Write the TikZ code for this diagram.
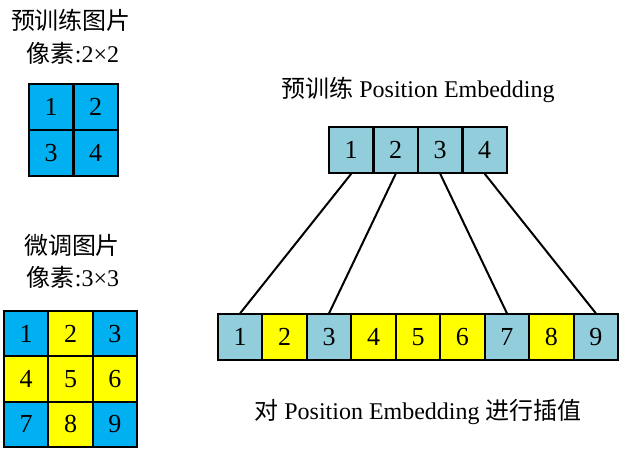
\documentclass[tikz,border=0pt]{standalone}
\usepackage{fontspec}
\setmainfont{Liberation Serif}
\newfontfamily\cjk{Noto Sans CJK SC}
\usepackage{tikz}
\usetikzlibrary{positioning}

\definecolor{gridblue}{HTML}{00B0F0}
\definecolor{embblue}{HTML}{92CDDC}
\definecolor{patchyellow}{HTML}{FFFF00}

\tikzset{
    cell/.style={draw, line width=2pt, inner sep=0pt, minimum width=44.4pt, minimum height=45.6pt, font=\fontsize{26}{28}\selectfont},
    label/.style={inner sep=0pt, font=\fontsize{24}{28}\selectfont}
}

\begin{document}
\begin{tikzpicture}[x=1pt, y=-1pt]
                    \useasboundingbox (0, 0) rectangle (622, 450);

                    % pretraining image, 2x2
                    \node [label] (pretitle) at (71, 20) {\cjk 预训练图片};
                    \node [label] (presize) at (73, 53) {{\cjk 像素}:2×2};
                    \node [cell, fill=gridblue] (a1) at (51.2, 107) {1};
                    \node [cell, fill=gridblue] (a2) at (95.7, 107) {2};
                    \node [cell, fill=gridblue] (a3) at (51.2, 153) {3};
                    \node [cell, fill=gridblue] (a4) at (95.7, 153) {4};

                    % finetuning image, 3x3
                    \node [label] (fttitle) at (72, 245) {\cjk 微调图片};
                    \node [label] (ftsize) at (73, 277) {{\cjk 像素}:3×3};
                    \node [cell, fill=gridblue] (b1) at (26.2, 333.7) {1};
                    \node [cell, fill=patchyellow] (b2) at (70.5, 333.7) {2};
                    \node [cell, fill=gridblue] (b3) at (114.8, 333.7) {3};
                    \node [cell, fill=patchyellow] (b4) at (26.2, 379) {4};
                    \node [cell, fill=patchyellow] (b5) at (70.5, 379) {5};
                    \node [cell, fill=patchyellow] (b6) at (114.8, 379) {6};
                    \node [cell, fill=gridblue] (b7) at (26.2, 424.3) {7};
                    \node [cell, fill=patchyellow] (b8) at (70.5, 424.3) {8};
                    \node [cell, fill=gridblue] (b9) at (114.8, 424.3) {9};

                    % pretrained position embedding
                    \node [label] (embtitle) at (418, 90) {{\cjk 预训练} Position Embedding};
                    \node [cell, fill=embblue] (p1) at (351.2, 150) {1};
                    \node [cell, fill=embblue] (p2) at (395.7, 150) {2};
                    \node [cell, fill=embblue] (p3) at (440.2, 150) {3};
                    \node [cell, fill=embblue] (p4) at (484.7, 150) {4};

                    % interpolated position embedding
                    \node [cell, fill=embblue] (q1) at (240.2, 337) {1};
                    \node [cell, fill=patchyellow] (q2) at (284.6, 337) {2};
                    \node [cell, fill=embblue] (q3) at (329.1, 337) {3};
                    \node [cell, fill=patchyellow] (q4) at (373.5, 337) {4};
                    \node [cell, fill=patchyellow] (q5) at (418, 337) {5};
                    \node [cell, fill=patchyellow] (q6) at (462.4, 337) {6};
                    \node [cell, fill=embblue] (q7) at (506.9, 337) {7};
                    \node [cell, fill=patchyellow] (q8) at (551.3, 337) {8};
                    \node [cell, fill=embblue] (q9) at (595.8, 337) {9};
                    \node [label] (interp) at (418, 412) {{\cjk 对} Position Embedding {\cjk 进行插值}};

                    \draw [line width=2pt] (p1.south) -- (q1.north);
                    \draw [line width=2pt] (p2.south) -- (q3.north);
                    \draw [line width=2pt] (p3.south) -- (q7.north);
                    \draw [line width=2pt] (p4.south) -- (q9.north);
                \end{tikzpicture}
\end{document}
